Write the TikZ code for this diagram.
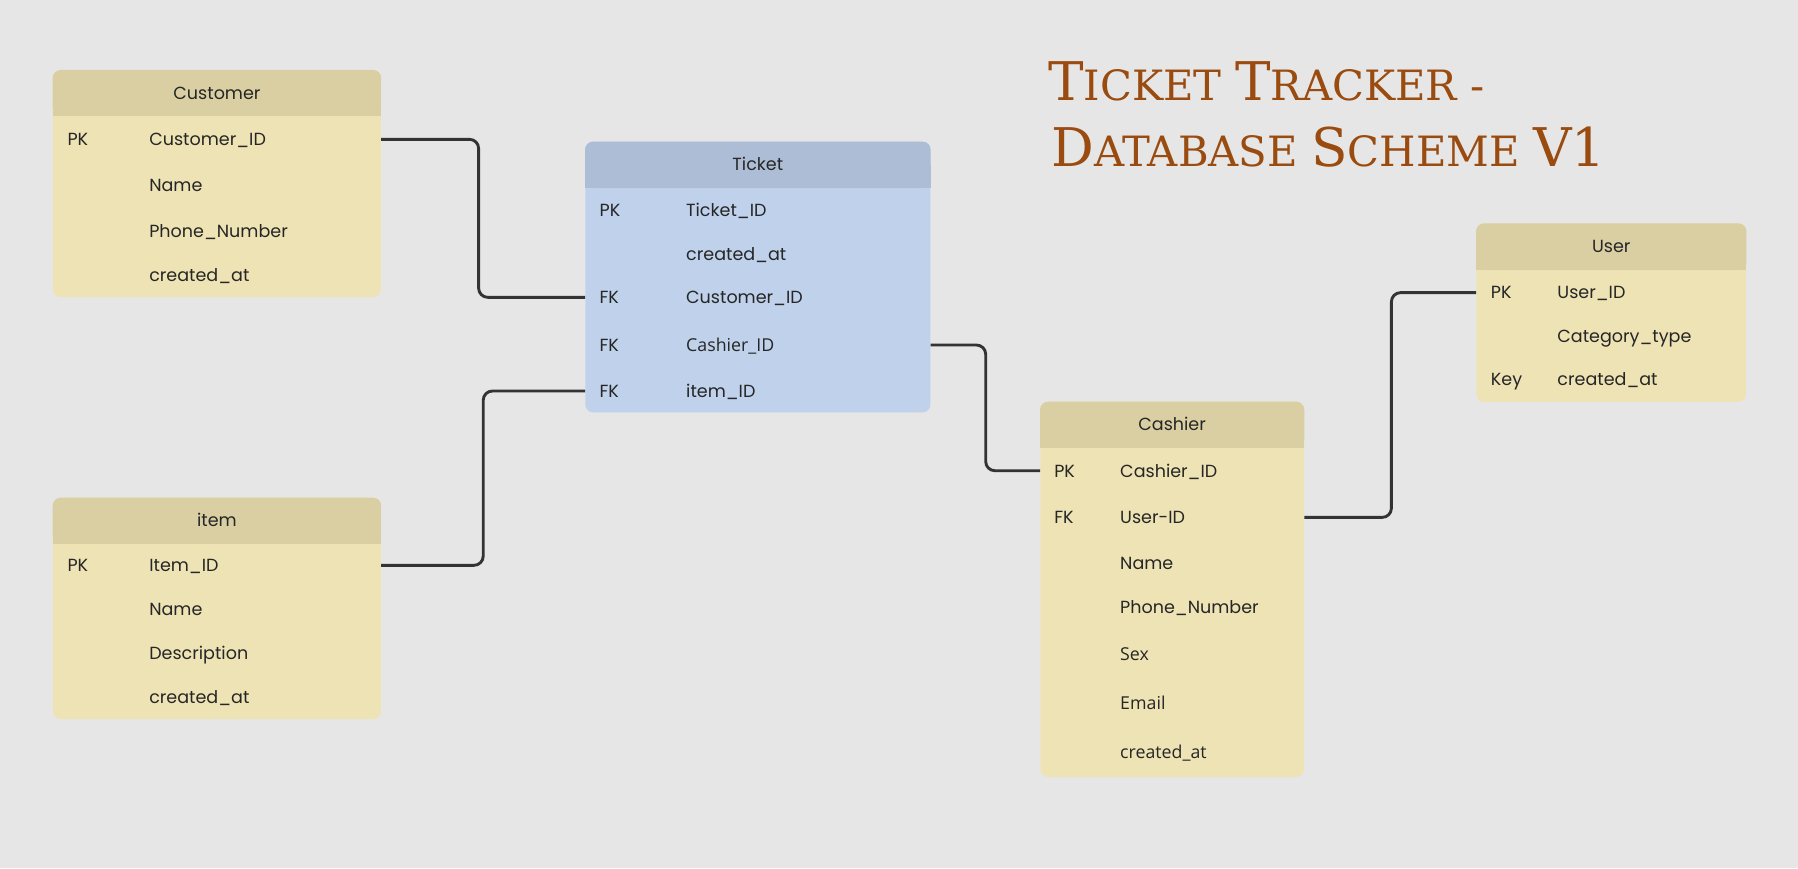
\documentclass[tikz,border=0pt]{standalone}
\usepackage{fontspec}
\setmainfont{Poppins}
\newfontfamily\titlefont{DejaVuSerif.ttf}
\newfontfamily\altfont{Open Sans}
\usetikzlibrary{positioning,calc}
\definecolor{canvas}{HTML}{E6E6E6}
\definecolor{tanhead}{HTML}{D9CFA3}
\definecolor{tanbody}{HTML}{EEE3B4}
\definecolor{bluehead}{HTML}{AEBDD6}
\definecolor{bluebody}{HTML}{C0D1EB}
\definecolor{linkgrey}{HTML}{333333}
\definecolor{titlebrown}{HTML}{9A4B10}
\newcommand{\capbig}[1]{{\fontsize{46.5}{48}\selectfont #1}}
\tikzset{
    tbl/.style={
        rectangle,
        rounded corners=7pt,
        inner sep=0pt,
        anchor=north west
    },
    headtext/.style={
        inner sep=0pt,
        text height=11pt,
        text depth=0pt,
        font=\fontsize{15.3}{18}\selectfont,
        text=black!85
    },
    field/.style={
        headtext,
        anchor=west
    },
    altfield/.style={
        field,
        font=\altfont\fontsize{15.5}{18}\selectfont
    },
    link/.style={
        draw=linkgrey,
        line width=2.5pt,
        rounded corners=8pt
    },
    titletext/.style={
        anchor=base west,
        inner sep=0pt,
        font=\titlefont\fontsize{36.4}{38}\selectfont,
        text=titlebrown
    }
}

\begin{document}
\begin{tikzpicture}[x=1pt,y=-1pt]
  \fill[canvas] (0,0) rectangle (1568,757);
  \useasboundingbox (0,0) rectangle (1568,757);

  % Title
  \node[titletext] (title1) at (914,88) {\capbig{T}ICKET \capbig{T}RACKER -};
  \node[titletext] (title2) at (917,145) {\capbig{D}ATABASE \capbig{S}CHEME \capbig{V1}};

  % Customer table
  \node[tbl, fill=tanbody, minimum width=286, minimum height=198] (customer) at (46,61) {};
  \fill[tanhead, rounded corners=7] (customer.north west) rectangle ([yshift=-40]customer.north east);
  \fill[tanhead] ([yshift=-20]customer.north west) rectangle ([yshift=-40]customer.north east);
  \node[headtext] (customer-h) at ([yshift=-20]customer.north) {Customer};
  \node[field] (cust-pk) at (58.7,121.5) {PK};
  \node[field] (cust-id) at (130,121.5) {Customer\_ID};
  \node[field] (cust-name) at (130,161.6) {Name};
  \node[field] (cust-phone) at (130,202) {Phone\_Number};
  \node[field] (cust-created) at (130,240.1) {created\_at};

  % item table
  \node[tbl, fill=tanbody, minimum width=286, minimum height=193] (item) at (46,434) {};
  \fill[tanhead, rounded corners=7] (item.north west) rectangle ([yshift=-40]item.north east);
  \fill[tanhead] ([yshift=-20]item.north west) rectangle ([yshift=-40]item.north east);
  \node[headtext] (item-h) at ([yshift=-20]item.north) {item};
  \node[field] (item-pk) at (58.7,493) {PK};
  \node[field] (item-id) at (130,493) {Item\_ID};
  \node[field] (item-name) at (130,531) {Name};
  \node[field] (item-desc) at (130,570) {Description};
  \node[field] (item-created) at (130,608) {created\_at};

  % Ticket table
  \node[tbl, fill=bluebody, minimum width=301, minimum height=236] (ticket) at (510.2,123.5) {};
  \fill[bluehead, rounded corners=7] (ticket.north west) rectangle ([yshift=-40.5]ticket.north east);
  \fill[bluehead] ([yshift=-20]ticket.north west) rectangle ([yshift=-40.5]ticket.north east);
  \node[headtext] (ticket-h) at ([yshift=-20]ticket.north) {Ticket};
  \node[field] (tick-pk) at (522.7,183.7) {PK};
  \node[field] (tick-id) at (598.2,183.7) {Ticket\_ID};
  \node[field] (tick-created) at (598.2,221.5) {created\_at};
  \node[field] (tick-fk1) at (522.7,259.3) {FK};
  \node[field] (tick-cust) at (598.2,259.3) {Customer\_ID};
  \node[field] (tick-fk2) at (522.7,300.9) {FK};
  \node[altfield] (tick-cash) at (598.2,300.9) {Cashier\_ID};
  \node[field] (tick-fk3) at (522.7,341) {FK};
  \node[field] (tick-item) at (598.2,341) {item\_ID};

  % Cashier table
  \node[tbl, fill=tanbody, minimum width=230, minimum height=327] (cashier) at (907,350.3) {};
  \fill[tanhead, rounded corners=7] (cashier.north west) rectangle ([yshift=-40]cashier.north east);
  \fill[tanhead] ([yshift=-20]cashier.north west) rectangle ([yshift=-40]cashier.north east);
  \node[headtext] (cashier-h) at ([yshift=-20]cashier.north) {Cashier};
  \node[field] (cash-pk) at (919.2,410.5) {PK};
  \node[field] (cash-id) at (976.7,410.5) {Cashier\_ID};
  \node[field] (cash-fk) at (919.2,451.2) {FK};
  \node[field] (cash-user) at (976.7,451.2) {User-ID};
  \node[field] (cash-name) at (976.7,491.3) {Name};
  \node[field] (cash-phone) at (976.7,529.7) {Phone\_Number};
  \node[altfield] (cash-sex) at (976.7,570.4) {Sex};
  \node[altfield] (cash-email) at (976.7,613.4) {Email};
  \node[altfield] (cash-created) at (976.7,656.4) {created\_at};

  % User table
  \node[tbl, fill=tanbody, minimum width=235.4, minimum height=155.5] (user) at (1287.2,194.8) {};
  \fill[tanhead, rounded corners=7] (user.north west) rectangle ([yshift=-40.7]user.north east);
  \fill[tanhead] ([yshift=-20]user.north west) rectangle ([yshift=-40.7]user.north east);
  \node[headtext] (user-h) at ([yshift=-20]user.north) {User};
  \node[field] (user-pk) at (1300,255.2) {PK};
  \node[field] (user-id) at (1358,255.2) {User\_ID};
  \node[field] (user-cat) at (1358,293) {Category\_type};
  \node[field] (user-key) at (1300,330.8) {Key};
  \node[field] (user-created) at (1358,330.8) {created\_at};

  % Relations
  \draw[link] (customer.east |- cust-id) -| ([xshift=85]customer.east |- tick-cust) -- (ticket.west |- tick-cust);
  \draw[link] (item.east |- item-id) -| ([xshift=89]item.east |- tick-item) -- (ticket.west |- tick-item);
  \draw[link] (ticket.east |- tick-cash) -| ([xshift=48]ticket.east |- cash-id) -- (cashier.west |- cash-id);
  \draw[link] (cashier.east |- cash-user) -| ([xshift=76]cashier.east |- user-id) -- (user.west |- user-id);
\end{tikzpicture}
\end{document}
